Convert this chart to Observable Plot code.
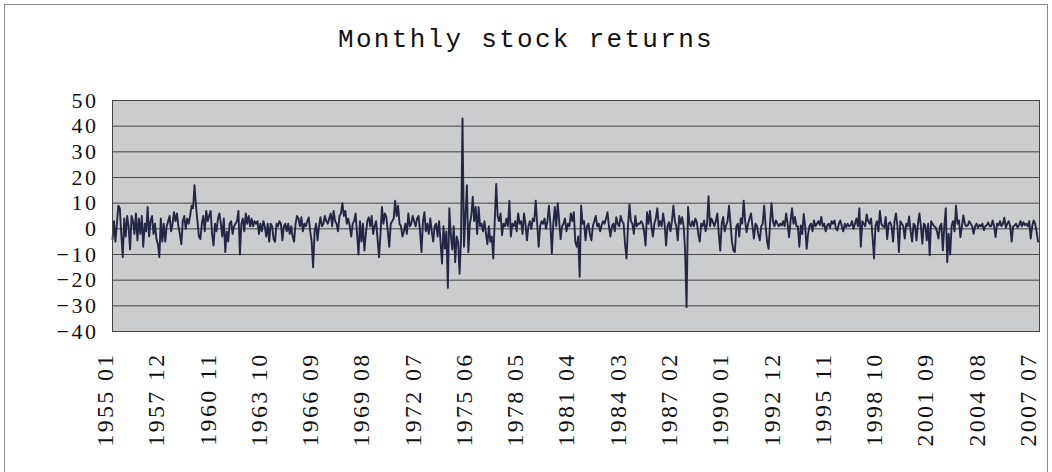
<!DOCTYPE html>
<html><head><meta charset="utf-8">
<script src="https://cdn.jsdelivr.net/npm/d3@7"></script>
<script src="https://cdn.jsdelivr.net/npm/@observablehq/plot@0.6"></script>
<style>
body{margin:0;background:#fff;}
#wrap{position:relative;width:1052px;height:472px;overflow:hidden;background:#fff;}
#frame{position:absolute;left:4px;top:4px;width:1044px;height:480px;border:1px solid #8a8a8a;box-sizing:border-box;}
#title{position:absolute;left:0;top:25px;width:1052px;text-align:center;font-family:"Liberation Mono",monospace;font-size:26px;letter-spacing:2.3px;color:#111;}
#chart{position:absolute;left:0;top:0;}
</style></head>
<body><div id="wrap"><div id="frame"></div><div id="title">Monthly stock returns</div><div id="chart"></div></div>
<script>
// Monthly returns (%), starting 1955 01
const r1955_1959 = [
  -4, 3, -5, 2, 9, 8, -2, -11, 4, -3, 5, 1,
  -8, 5, 3, -2, 6, -4.5, 4, -2, 5, -7, 2, -1,
  8.5, -3, 3, 5, -2, 2, -4, -6, -11, 4, -5, 2,
  -5, 1, 3, 5, -1, 2, 6.5, 3, 6, 1, -2, -6,
  3, 5, 0, 4, 2, 5, 9, 8, 17, 9, 3, -3
];
const r1960_1969 = [
  -4, 2, 5, -1, 7, 3, 5, 7, -2, -6.5, 2, -1,
  4, 6, 2, -3, 4, -9, -1, -5, 2, 3, -2, 1,
  2, 3, 7, -10, 2, 4, -1, 6, 2, 5, 1, 4,
  1, 3, 2, 3, -2, 2, -1, 3, 1, -3, 2, -5,
  2, 1, -4, -5, 2, 1, 3, 2, -4.5, 1, 2, -1,
  2, -2, 1, -3, -5, 2, 5, 4, 1, 4.5, -1, 2,
  1, 3, 4.5, -1, -5, -15, -1, 2, -4.5, 1, 4.5, 1,
  2, 5, 3, 2, 4, 6, 1, 7, 3, 2, -1, 5,
  6, 10, 5, 7, 2, 4, 1, -3, 2, 3, 6, -2,
  -10, 3, -5, 2, -8.5, -2, 3, 4.5, 1, 5, -2, 1
];
const r1970_1979 = [
  3, -4, -11, -2, 8.5, 2, 6, 4.5, -1, -7, 2, 3,
  4, 11, 5, 9, 2, 1, -3, -1, 2, -2, 6, 1,
  2, 5, 3, 1, 4, 5, -1, -9, 3, 6.5, -1, 2,
  -2, 4, -1, -5, 1, 2, -3, 3, -5, -13.5, 1, -7.7,
  -1, -23, 8, -2, -8, 1, -13, -3, -5, -17.5, -4, 43,
  -7, 5, 17, -9, 2, 5, 12.5, 3, 8.5, -2, 8.5, 1,
  2, -1, 3, -2, -6, 1, -5, -3, -11.5, 3, 17.5, 5,
  3, 6, -2.5, 2, 1, 4, 1, 11, -3, 2, 1, 3,
  -1, 6, 2, 3, -2, 6, 2, -4.5, 1, 3, 0, 4,
  3, 11, 2, -7, 1, 3, 2, 4, 0, 3, 9, 2
];
const r1980_1989 = [
  -9.5, 2, 8.5, 1, 10, 3, -4, 1, 2, 4, -1, 2,
  1, 6, 3, 6.5, -5, -7, -3, -18.7, 9, 2, 3, -4.5,
  1, 2, -2, -4.5, 1, 3, 5, 1, 2, -1, 1.5, 3,
  2, 4, 6.5, 1, -3, 1, 2, -1, 4.5, 2, 1, 5,
  3, 2, -6, -11.5, 1, 9.5, 3, 2, -2, 5, 1, 2,
  2, 3, 2, -1, -6.5, 6.5, 2, 7, 1, -3, 2, 4,
  8, 1, 3, 1, 6, 2, -6.5, 1, 2.6, -1, 3, 9,
  3, 1, -4.5, 5, 2, 4.5, 1, -8.5, -30.5, 8.5, 2, 1,
  3, 1, 4, 2.6, -2, -5, 2, 1, 3.3, -1, 2, 12.7,
  1, 4, 2.6, 1, 3, 6, -2, -8.5, 2, 4.6, -1, 1.3
];
const r1990_1999 = [
  3, 9, 2, -5, -8.5, -9, 1, 2, -3, 4, 2, 11,
  3, -1.3, 2, 4, 6, 1, -3.8, 2, 1.3, -2, -4.5, 1,
  2, 9, 1, -5, -7.8, 2, 10, 3, 1, 3.3, 2, 1,
  2, 1.3, 3, 1, 6, 2, -3.2, 3, 8, 2, 4.6, 1,
  1, -7, 1.3, -2, 5.8, 1, -7.8, -2, 1.3, 2, -1, 3.3,
  1, 2, 3, 1.5, 4.6, 1, 2, -1, 1.3, 2, 0.5, 3,
  2, 3.3, 0, -0.6, 2, 3.3, 1, -1, 2, 0.7, 2, 1,
  1.3, 3, 0, 2, 4, 1, 8, -7, 3, 2, 1, 5.6,
  3, 2, 4, -3.2, -11.5, 1.3, 3, -1, 7, 2, 1, 0.7,
  4.6, -4, 2, 2.6, 1, -5, 3, 6, 1, -9, 3, 2
];
const r2000_2007 = [
  1, -3.8, 2, 1, 4.8, -1, -5, 2, 1.3, -4.5, 2, 6,
  1, -5.8, 2, 1.3, -4.5, 2, -10.3, 3, 2, 1, 0.7, -1,
  -3.8, 1, 2, -8.4, 1, 8, -13, -2, -10, 1.3, 3, -1,
  9, 2, 3.3, -3.2, 1, 5.2, 2, 1, 1.3, 3, 2, 1,
  -1.9, 1, 2, 0.5, 1.5, 1, 2, -0.5, 1, 1.5, 2.5, 1,
  1, 3.3, 1, -3.2, 2, 1.3, 3, 1, 2, 4.3, 0.5, 2,
  3, 1, -5, 1, 1.3, 2, 0.5, 1.3, 3, 1, 2.6, 1.5,
  2, 1, 3, -3.8, 1, 3.3, 2, -1, -5
];
// Category axis labels, one every 35 months
const tickLabels = ["1955 01","1957 12","1960 11","1963 10","1966 09","1969 08","1972 07",
  "1975 06","1978 05","1981 04","1984 03","1987 02","1990 01","1992 12","1995 11",
  "1998 10","2001 09","2004 08","2007 07"];
const labelStep = 35;
const yTicks = [-40, -30, -20, -10, 0, 10, 20, 30, 40, 50];

const values = [].concat(r1955_1959, r1960_1969, r1970_1979, r1980_1989, r1990_1999, r2000_2007);
const data = values.map((v, i) => ({i, v}));
const tickIdx = tickLabels.map((_, k) => k * labelStep);

const chart = Plot.plot({
  width: 1052, height: 472,
  marginLeft: 112, marginRight: 13, marginTop: 100, marginBottom: 141,
  style: {background: "transparent", color: "#111", overflow: "visible"},
  x: {domain: [0, values.length], axis: null},
  y: {domain: [-40, 50], axis: null},
  marks: [
    Plot.frame({fill: "#cacccd", stroke: null}),
    Plot.ruleY(yTicks.slice(1, -1), {stroke: "#454545", strokeWidth: 1}),
    Plot.line(data, {x: "i", y: "v", stroke: "#232744", strokeWidth: 1.9}),
    Plot.frame({stroke: "#454545", strokeWidth: 1}),
    Plot.axisY(yTicks, {label: null, tickSize: 0, tickPadding: 14, fontSize: 22, fontFamily: "Liberation Serif",
      tickFormat: d => d < 0 ? "\u2212" + (-d) : String(d)}),
    Plot.axisX(tickIdx, {label: null, tickSize: 0, tickRotate: -90, tickPadding: 21, dx: -7, fontSize: 24, fontFamily: "Liberation Serif",
      tickFormat: d => tickLabels[d / labelStep]})
  ]
});
document.getElementById("chart").appendChild(chart);
d3.select(chart).selectAll('g[aria-label="x-axis tick label"] text').attr("letter-spacing", "2.3px");
d3.select(chart).selectAll('g[aria-label="y-axis tick label"] text').attr("letter-spacing", "2.5px");
</script>
</body></html>
